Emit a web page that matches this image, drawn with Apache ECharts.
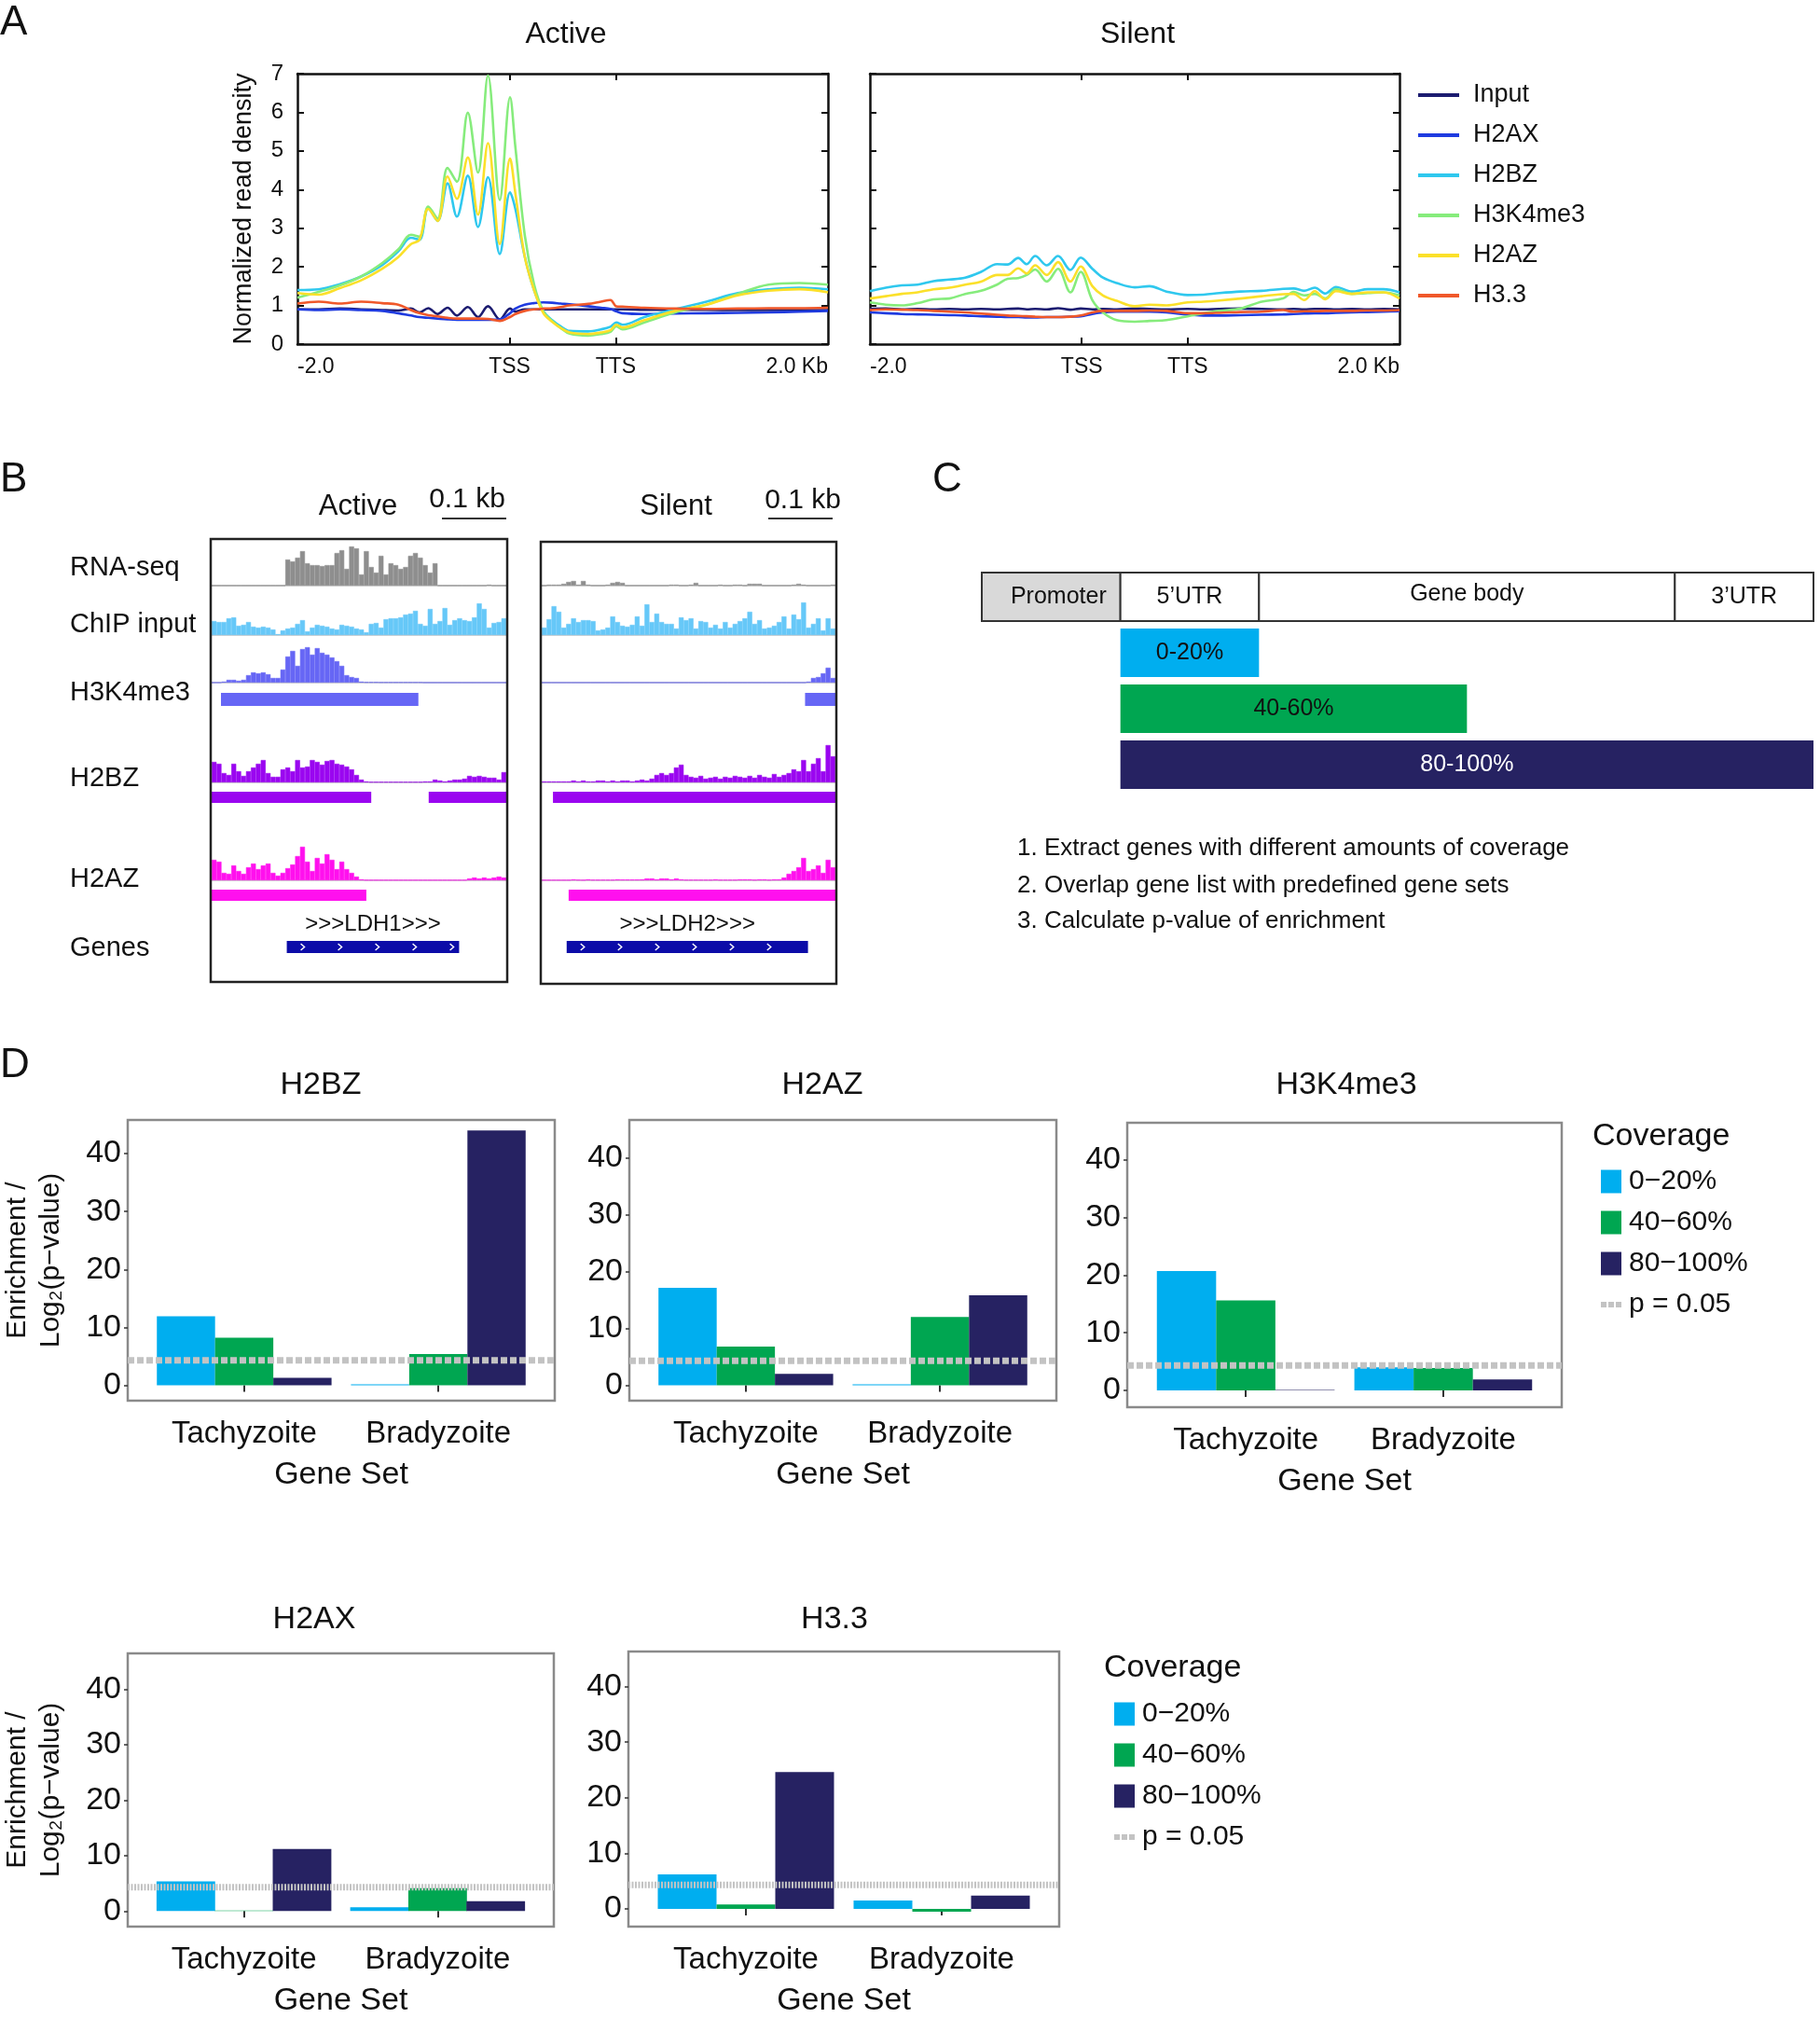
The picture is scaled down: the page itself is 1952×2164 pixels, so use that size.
<!DOCTYPE html>
<html><head><meta charset="utf-8">
<script src="https://cdn.jsdelivr.net/npm/echarts@6/dist/echarts.min.js"></script>
<style>html,body{margin:0;padding:0;background:#fff}#c{width:1952px;height:2164px}</style>
</head><body><div id="c"></div>
<script>
// ================= DATA =================
// Panel A: metagene profiles (x in bp-scaled units: -2kb..TSS..TTS..+2kb => 0..2000..3000..5000)
const profileNames = ['Input','H2AX','H2BZ','H3K4me3','H2AZ','H3.3'];
const profileTickPos = [0, 2000, 3000, 5000];
const profileTickLabels = ['-2.0','TSS','TTS','2.0 Kb'];
const xActive = [0,200,400,600,800,950,1070,1150,1233,1321,1415,1503,1606,1702,1796,1907,2004,2054,2142,2230,2318,2400,2480,2566,2740,2860,2950,3005,3064,3270,3560,3855,4150,4440,4730,5000];
const activeInput = [0.90,0.90,0.92,0.90,0.88,0.87,0.92,0.82,0.93,0.78,0.94,0.74,0.96,0.70,0.98,0.64,0.92,0.84,0.90,0.90,0.90,0.90,0.90,0.90,0.90,0.90,0.90,0.90,0.90,0.89,0.89,0.89,0.88,0.88,0.88,0.88];
const activeH2AX = [0.90,0.88,0.90,0.88,0.86,0.80,0.74,0.70,0.68,0.66,0.64,0.63,0.63,0.63,0.63,0.64,0.80,0.92,1.02,1.06,1.08,1.07,1.05,1.03,0.98,0.94,0.91,0.85,0.80,0.78,0.79,0.80,0.81,0.82,0.84,0.86];
const activeH2BZ = [1.40,1.42,1.55,1.75,2.05,2.40,2.75,2.70,3.52,3.19,4.16,3.30,4.36,3.03,4.32,2.33,3.93,3.50,2.27,1.40,0.85,0.62,0.46,0.34,0.33,0.38,0.45,0.56,0.50,0.70,0.90,1.10,1.32,1.42,1.46,1.42];
const activeH3K4me3 = [1.20,1.35,1.52,1.75,2.10,2.45,2.83,2.78,3.56,3.25,4.56,4.20,5.99,4.44,6.95,3.73,6.39,5.10,2.83,1.55,0.85,0.60,0.42,0.27,0.22,0.26,0.32,0.46,0.38,0.56,0.82,1.02,1.30,1.54,1.58,1.54];
const activeH2AZ = [1.32,1.28,1.45,1.65,1.95,2.25,2.59,2.70,3.50,3.19,4.34,3.76,4.83,3.35,5.20,2.59,4.80,3.90,2.27,1.40,0.80,0.58,0.42,0.30,0.26,0.30,0.36,0.50,0.43,0.62,0.86,1.02,1.26,1.38,1.42,1.34];
const activeH33 = [1.05,1.10,1.05,1.10,1.06,1.02,0.88,0.80,0.75,0.72,0.68,0.66,0.66,0.66,0.65,0.60,0.70,0.78,0.86,0.90,0.92,0.93,0.96,1.00,1.04,1.10,1.14,0.98,0.97,0.94,0.92,0.91,0.92,0.93,0.93,0.94];
const xSilent = [0,150,300,450,600,750,900,1050,1200,1300,1400,1480,1560,1670,1776,1893,1990,2100,2200,2330,2500,2640,2800,3000,3150,3300,3500,3700,3900,4000,4100,4200,4300,4400,4550,4700,4850,5000];
const silentInput = [0.91,0.92,0.90,0.91,0.90,0.91,0.90,0.91,0.90,0.91,0.92,0.90,0.91,0.90,0.93,0.89,0.92,0.90,0.91,0.90,0.92,0.91,0.90,0.91,0.90,0.91,0.92,0.91,0.90,0.91,0.90,0.91,0.91,0.90,0.91,0.90,0.91,0.90];
const silentH2AX = [0.82,0.80,0.78,0.77,0.76,0.75,0.74,0.72,0.71,0.70,0.70,0.69,0.69,0.70,0.70,0.71,0.72,0.78,0.82,0.84,0.84,0.84,0.82,0.76,0.74,0.74,0.75,0.76,0.77,0.78,0.79,0.80,0.80,0.81,0.82,0.83,0.84,0.85];
const silentH2BZ = [1.37,1.46,1.52,1.54,1.63,1.67,1.72,1.87,2.07,2.06,2.23,2.07,2.28,2.04,2.28,1.92,2.24,1.95,1.72,1.58,1.47,1.50,1.36,1.27,1.28,1.32,1.36,1.38,1.43,1.44,1.38,1.46,1.31,1.48,1.36,1.42,1.42,1.34];
const silentH3K4me3 = [1.08,1.02,1.00,1.06,1.16,1.18,1.30,1.38,1.54,1.69,1.71,1.79,1.93,1.62,1.95,1.34,1.87,1.14,0.82,0.62,0.58,0.60,0.62,0.72,0.80,0.86,0.92,1.10,1.18,1.35,1.26,1.30,1.18,1.42,1.30,1.32,1.34,1.26];
const silentH2AZ = [1.18,1.24,1.30,1.34,1.42,1.46,1.54,1.62,1.79,1.79,1.96,1.83,2.04,1.79,2.12,1.62,2.01,1.50,1.26,1.12,0.98,1.02,1.00,1.08,1.10,1.13,1.18,1.24,1.29,1.30,1.14,1.37,1.16,1.37,1.30,1.34,1.34,1.18];
const silentH33 = [0.88,0.90,0.89,0.88,0.86,0.84,0.82,0.79,0.76,0.74,0.73,0.72,0.71,0.70,0.70,0.71,0.74,0.82,0.86,0.86,0.86,0.87,0.86,0.80,0.80,0.81,0.83,0.84,0.88,0.84,0.85,0.85,0.86,0.86,0.86,0.87,0.87,0.88];

// Panel B: genome browser coverage tracks (60 bins per locus)
const trackNames = ['RNA-seq','ChIP input','H3K4me3','H2BZ','H2AZ','Genes'];
const rnaActive = [0,0,0,0,0,0,0,0,0,0,0,0,0,0,0,28,26,30,37,24,22,22,21,22,22,35,38,18,42,40,12,37,20,14,32,12,24,22,18,20,32,35,30,22,14,24,0,0,0,0,0,0,0,0,0,0,1,0,0,0];
const chipActive = [15,14,14,18,19,10,11,14,9,8,9,8,6,1,5,7,8,12,16,4,8,11,10,9,7,6,11,10,9,7,6,3,12,13,8,17,18,18,19,22,23,26,12,10,28,12,15,29,11,16,18,16,15,19,34,28,8,13,14,18];
const k4Active = [0,0,1,3,3,2,3,8,11,10,11,9,5,5,14,28,34,18,36,38,30,37,32,30,27,23,18,8,6,5,1,0.5,0.5,0.5,0.3,0.3,0.3,0.3,0.3,0.3,0.3,0.3,0.3,0,0,0,0,0,0,0,0,0,0,0,0,0,0,0,0,0];
const h2bzActive = [22,20,10,8,20,12,7,12,16,20,24,10,6,6,14,16,12,24,16,17,24,22,19,23,24,20,19,17,14,8,3,1,0.5,0.5,0.5,0.5,0.5,0.5,0.5,0.5,0.5,0.5,0.5,1,1,3,2,1,2,3,3,4,7,6,7,6,5,5,3,11];
const h2azActive = [22,20,8,7,16,10,7,14,18,12,16,18,8,5,8,13,17,26,36,20,10,24,18,28,22,12,20,12,8,4,1,0.3,0.3,0.3,0.3,0.3,0.3,0.3,0.3,0.3,0.3,0.3,0.3,0.3,0.3,0.3,0.3,0.3,0.3,0.3,0.3,0.3,2,3,2,3,2,3,4,3];
const rnaSilent = [0,1,1,1,2,4,5,1,5,1,0,0,0,1,3,4,3,0,0,0,0,0,0,0,0,0,1,1,0,0,1,3,0,0,0,0,1,0,0,1,1,0,2,2,2,0,0,0,0,0,0,1,2,1,0,0,0,0,0,1];
const chipSilent = [8,17,31,25,8,12,18,14,16,16,15,5,6,8,20,14,10,9,11,20,10,33,14,23,14,12,12,7,19,16,18,7,15,14,8,11,7,14,8,12,15,18,25,12,16,7,8,10,14,20,7,22,17,35,8,12,18,5,18,7];
const k4Silent = [0,0,0,0,0,0,0,0,0,0,0,0,0,0,0,0,0,0,0,0,0,0,0,0,0,0,0,0,0,0,0,0,0,0,0,0,0,0,0,0,0,0,0,0,0,0,0,0,0,0,0,0,0,0,1,5,6,10,16,5];
const h2bzSilent = [1,1,1,1,1,1,2,1,2,1,1,2,2,1,2,1,2,2,1,2,3,2,4,8,10,8,10,16,19,8,6,5,7,4,5,6,4,6,5,7,6,5,7,5,8,6,5,9,6,8,10,14,12,24,12,20,26,12,40,28];
const h2azSilent = [0.3,0.3,0.3,0.3,0.3,0.3,1,0.5,0.3,1,0.5,0.5,0.5,0.5,0.5,1,0.8,0.8,0.8,0.8,1,2,2,1,2,2,1,2,1,0.5,0.5,0.5,0.5,0.5,0.5,1,0.5,0.5,0.5,0.5,1,1,1,0.5,1,1,0.5,1,1,3,7,10,14,24,10,12,16,8,22,14];
// called peaks / gene models, in bins [start, end]
const k4PeaksActive = [[1.9, 42.1]];
const k4PeaksSilent = [[53.8, 60]];
const h2bzPeaksActive = [[0, 32.5], [44.2, 60]];
const h2bzPeaksSilent = [[2.3, 60]];
const h2azPeaksActive = [[0, 31.5]];
const h2azPeaksSilent = [[5.5, 60]];
const geneNames = ['LDH1', 'LDH2'];
const geneActive = [[15.3, 50.4, 0]];
const geneSilent = [[5.1, 54.4, 1]];

// Panel C: schematic
const structureLabels = ['Promoter', '5\u2019UTR', 'Gene body', '3\u2019UTR'];
const structureBounds = [0, 1, 2, 5, 6];
const coverageBarLabels = ['0-20%', '40-60%', '80-100%'];
const coverageBarEnds = [2, 3.5, 6];
const steps = ['1. Extract genes with different amounts of coverage', '2. Overlap gene list with predefined gene sets', '3. Calculate p-value of enrichment'];

// Panel D: enrichment, per coverage class: [Tachyzoite, Bradyzoite]
const geneSets = ['Tachyzoite', 'Bradyzoite'];
const coverageNames = ['0\u221220%', '40\u221260%', '80\u2212100%'];
const enrichH2BZ = [[11.9, 0.15], [8.2, 5.4], [1.3, 44.0]];
const enrichH2AZ = [[17.1, 0.15], [6.8, 12.0], [2.0, 15.8]];
const enrichH3K4me3 = [[20.7, 4.0], [15.6, 3.9], [0.1, 1.9]];
const enrichH2AX = [[5.35, 0.7], [0.1, 4.15], [11.2, 1.8]];
const enrichH33 = [[6.2, 1.5], [0.8, -0.5], [24.6, 2.4]];
const pThreshold = [4.32];
const yTicksD = [0, 10, 20, 30, 40];

// ================= STYLE / LAYOUT =================
const FONT = "'Liberation Sans', Arial, Helvetica, sans-serif";
const INK = '#111';
const profileColors = ['#1c1c70', '#1f3be0', '#2fc8ee', '#86ec7c', '#fbe02a', '#f0582a'];
const coverageColors = ['#00aeef', '#00a651', '#262262'];

const grids = [], xAxes = [], yAxes = [], series = [], graphics = [];
const addGrid = g => (grids.push(g), grids.length - 1);
const addX = a => (xAxes.push(a), xAxes.length - 1);
const addY = a => (yAxes.push(a), yAxes.length - 1);
const txt = (text, x, y, size, opts = {}) => graphics.push(Object.assign({
  type: 'text', x, y, z: 10,
  style: Object.assign({ text, font: size + 'px ' + FONT, fill: INK,
    textAlign: 'center', textVerticalAlign: 'middle', align: 'center', verticalAlign: 'middle' }, opts.style || {})
}, opts.el || {}));

// ---------- Panel A ----------
function buildProfile(left, width, xs, profiles, showLabels) {
  const gi = addGrid({ left, top: 79, width, height: 290 });
  const line = { color: INK, width: 2.5 };
  const tick = { color: INK, width: 2 };
  const xb = addX({ gridIndex: gi, type: 'value', min: 0, max: 5000, position: 'bottom',
    axisLine: { show: true, onZero: false, lineStyle: line },
    axisTick: { show: true, inside: true, length: 7, customValues: profileTickPos.slice(1, 3), lineStyle: tick },
    axisLabel: { show: true, customValues: profileTickPos, formatter: v => profileTickLabels[profileTickPos.indexOf(v)],
      fontSize: 23, color: INK, fontFamily: FONT, margin: 13, alignMinLabel: 'left', alignMaxLabel: 'right' },
    splitLine: { show: false } });
  addX({ gridIndex: gi, type: 'value', min: 0, max: 5000, position: 'top',
    axisLine: { show: true, onZero: false, lineStyle: line },
    axisTick: { show: true, inside: true, length: 7, customValues: profileTickPos.slice(1, 3), lineStyle: tick },
    axisLabel: { show: false }, splitLine: { show: false } });
  const yl = addY({ gridIndex: gi, type: 'value', min: 0, max: 7, interval: 1, position: 'left',
    axisLine: { show: true, onZero: false, lineStyle: line },
    axisTick: { show: true, inside: true, length: 7, lineStyle: tick },
    axisLabel: { show: showLabels, fontSize: 24, color: INK, fontFamily: FONT, margin: 15 },
    splitLine: { show: false },
    name: showLabels ? 'Normalized read density' : '', nameLocation: 'middle', nameRotate: 90, nameGap: 44,
    nameTextStyle: { fontSize: 27, color: INK, fontFamily: FONT } });
  addY({ gridIndex: gi, type: 'value', min: 0, max: 7, interval: 1, position: 'right',
    axisLine: { show: true, onZero: false, lineStyle: line },
    axisTick: { show: true, inside: true, length: 7, lineStyle: tick },
    axisLabel: { show: false }, splitLine: { show: false } });
  profiles.forEach((ys, k) => series.push({
    type: 'line', name: profileNames[k], xAxisIndex: xb, yAxisIndex: yl,
    data: xs.map((x, i) => [x, ys[i]]), smooth: 0.35, symbol: 'none', showSymbol: false,
    lineStyle: { color: profileColors[k], width: 2.6 }, itemStyle: { color: profileColors[k] }, silent: true
  }));
}
buildProfile(319, 569, xActive, [activeInput, activeH2AX, activeH2BZ, activeH3K4me3, activeH2AZ, activeH33], true);
buildProfile(933, 568, xSilent, [silentInput, silentH2AX, silentH2BZ, silentH3K4me3, silentH2AZ, silentH33], false);
txt('A', 0, 25, 44, { style: { textAlign: 'left', align: 'left' } });
txt('Active', 607, 37, 32);
txt('Silent', 1220, 37, 32);

// ---------- Panel B ----------
const bPanels = [{ left: 227, width: 316 }, { left: 581, width: 315 }];
const bTracks = [
  { data: [rnaActive, rnaSilent], color: '#8e8e8e', top: 584, height: 44 },
  { data: [chipActive, chipSilent], color: '#66c8f8', top: 642, height: 39 },
  { data: [k4Active, k4Silent], color: '#6666f5', top: 690, height: 42 },
  { data: [h2bzActive, h2bzSilent], color: '#9a06f0', top: 795, height: 44 },
  { data: [h2azActive, h2azSilent], color: '#ff10ee', top: 900, height: 44 }
];
const bAnnot = [
  { segs: [k4PeaksActive, k4PeaksSilent], color: '#6666f5', top: 743, height: 14 },
  { segs: [h2bzPeaksActive, h2bzPeaksSilent], color: '#9a06f0', top: 849, height: 12 },
  { segs: [h2azPeaksActive, h2azPeaksSilent], color: '#ff10ee', top: 954, height: 12 }
];
const bGenes = [geneActive, geneSilent];
const binCats = rnaActive.map((_, i) => i);
bPanels.forEach((pan, p) => {
  bTracks.forEach(tr => {
    const gi = addGrid({ left: pan.left, width: pan.width, top: tr.top, height: tr.height });
    const xi = addX({ gridIndex: gi, type: 'category', data: binCats, boundaryGap: true,
      axisLine: { show: true, lineStyle: { color: '#c4c4c4', width: 1.5 } }, axisTick: { show: false }, axisLabel: { show: false } });
    const yi = addY({ gridIndex: gi, type: 'value', min: 0, max: tr.height, show: false });
    series.push({ type: 'bar', xAxisIndex: xi, yAxisIndex: yi, data: tr.data[p], barCategoryGap: '0%', barGap: '0%',
      itemStyle: { color: tr.color, borderColor: tr.color, borderWidth: 0.6 }, silent: true, animation: false });
  });
  bAnnot.forEach(an => {
    const gi = addGrid({ left: pan.left, width: pan.width, top: an.top, height: an.height });
    const xi = addX({ gridIndex: gi, type: 'value', min: 0, max: 60, show: false });
    const yi = addY({ gridIndex: gi, type: 'value', min: 0, max: 1, show: false });
    series.push({ type: 'custom', xAxisIndex: xi, yAxisIndex: yi, data: an.segs[p], encode: { x: [0, 1] }, silent: true,
      renderItem: (params, api) => {
        const a = api.coord([api.value(0), 1]), b = api.coord([api.value(1), 0]);
        return { type: 'rect', shape: { x: a[0], y: a[1], width: b[0] - a[0], height: b[1] - a[1] }, style: { fill: an.color } };
      } });
  });
  const gi = addGrid({ left: pan.left, width: pan.width, top: 1009, height: 13 });
  const xi = addX({ gridIndex: gi, type: 'value', min: 0, max: 60, show: false });
  const yi = addY({ gridIndex: gi, type: 'value', min: 0, max: 1, show: false });
  series.push({ type: 'custom', xAxisIndex: xi, yAxisIndex: yi, data: bGenes[p], encode: { x: [0, 1] }, silent: true,
    renderItem: (params, api) => {
      const a = api.coord([api.value(0), 1]), b = api.coord([api.value(1), 0]);
      const x0 = a[0], y0 = a[1], w = b[0] - a[0], h = b[1] - a[1];
      const ch = [{ type: 'rect', shape: { x: x0, y: y0, width: w, height: h }, style: { fill: '#0c0ca8' } }];
      for (let cx = x0 + 17; cx < x0 + w - 3; cx += 40) {
        ch.push({ type: 'polyline', shape: { points: [[cx - 2, y0 + 3], [cx + 2, y0 + h / 2], [cx - 2, y0 + h - 3]] },
          style: { stroke: '#fff', lineWidth: 1.4, fill: null } });
      }
      ch.push({ type: 'text', style: { text: '>>>' + geneNames[api.value(2)] + '>>>', x: x0 + w / 2, y: y0 - 18,
        align: 'center', verticalAlign: 'middle', font: '24px ' + FONT, fill: INK } });
      return { type: 'group', children: ch };
    } });
});
graphics.push({ type: 'rect', shape: { x: 226, y: 578, width: 318, height: 475 }, style: { fill: null, stroke: '#222', lineWidth: 2.5 }, z: 10 });
graphics.push({ type: 'rect', shape: { x: 580, y: 581, width: 317, height: 474 }, style: { fill: null, stroke: '#222', lineWidth: 2.5 }, z: 10 });
txt('B', 0, 515, 44, { style: { textAlign: 'left', align: 'left' } });
txt('Active', 384, 543, 31);
txt('0.1 kb', 501, 536, 30);
txt('Silent', 725, 543, 31);
txt('0.1 kb', 861, 537, 30);
graphics.push({ type: 'line', shape: { x1: 474, y1: 556, x2: 543, y2: 556 }, style: { stroke: '#333', lineWidth: 2 } });
graphics.push({ type: 'line', shape: { x1: 824, y1: 556, x2: 893, y2: 556 }, style: { stroke: '#333', lineWidth: 2 } });
const bLabelY = [609, 670, 743, 835, 943, 1017];
trackNames.forEach((n, i) => txt(n, 75, bLabelY[i], 29, { style: { textAlign: 'left', align: 'left' } }));

// ---------- Panel C ----------
{
  const gi = addGrid({ left: 1053, top: 610, width: 892, height: 240 });
  const xi = addX({ gridIndex: gi, type: 'value', min: 0, max: 6, show: false });
  const yi = addY({ gridIndex: gi, type: 'category', data: ['structure'].concat(coverageBarLabels), inverse: true, show: false });
  const structFill = ['#d9d9d9', '#fff', '#fff', '#fff'];
  series.push({ type: 'custom', xAxisIndex: xi, yAxisIndex: yi, silent: true, encode: { x: [0, 1], y: 2 },
    data: structureLabels.map((l, i) => [structureBounds[i], structureBounds[i + 1], 0, i]),
    renderItem: (params, api) => {
      const a = api.coord([api.value(0), api.value(2)]), b = api.coord([api.value(1), api.value(2)]);
      const h = api.size([0, 1])[1] * 0.87, i = api.value(3);
      return { type: 'group', children: [
        { type: 'rect', shape: { x: a[0], y: a[1] - h / 2, width: b[0] - a[0], height: h }, style: { fill: structFill[i], stroke: '#333', lineWidth: 2 } },
        { type: 'text', style: { text: structureLabels[i], x: (a[0] + b[0]) / 2 + (i === 0 ? 8 : 0), y: a[1] - (i === 2 ? 3 : 0), align: 'center', verticalAlign: 'middle', font: '25px ' + FONT, fill: INK } }
      ] };
    } });
  const barText = [INK, INK, '#fff'];
  series.push({ type: 'custom', xAxisIndex: xi, yAxisIndex: yi, silent: true, encode: { x: [0, 1], y: 2 },
    data: coverageBarEnds.map((e, i) => [structureBounds[1], e, i + 1, i]),
    renderItem: (params, api) => {
      const a = api.coord([api.value(0), api.value(2)]), b = api.coord([api.value(1), api.value(2)]);
      const h = api.size([0, 1])[1] * 0.87, i = api.value(3);
      return { type: 'group', children: [
        { type: 'rect', shape: { x: a[0], y: a[1] - h / 2, width: b[0] - a[0], height: h }, style: { fill: coverageColors[i] } },
        { type: 'text', style: { text: coverageBarLabels[i], x: (a[0] + b[0]) / 2, y: a[1], align: 'center', verticalAlign: 'middle', font: '25px ' + FONT, fill: barText[i] } }
      ] };
    } });
}
txt('C', 1000, 515, 44, { style: { textAlign: 'left', align: 'left' } });
[910, 950, 988].forEach((y, i) => txt(steps[i], 1091, y, 26, { style: { textAlign: 'left', align: 'left' } }));

// ---------- Panel D ----------
const dCharts = [
  { title: 'H2BZ', data: enrichH2BZ, grid: { left: 137, top: 1201, width: 458, height: 301 }, yMin: -2.66, yMax: 45.8, tx: 344, ty: 1164, dash: [7, 3], yName: true },
  { title: 'H2AZ', data: enrichH2AZ, grid: { left: 675, top: 1201, width: 458, height: 301 }, yMin: -2.7, yMax: 46.6, tx: 882, ty: 1164, dash: [7, 3] },
  { title: 'H3K4me3', data: enrichH3K4me3, grid: { left: 1209, top: 1204, width: 466, height: 305 }, yMin: -2.9, yMax: 46.4, tx: 1444, ty: 1164, dash: [7, 3] },
  { title: 'H2AX', data: enrichH2AX, grid: { left: 133, top: 1773, width: 461, height: 301 }, yMin: -2.8, yMax: 46.5, tx: 337, ty: 1737, dash: [2, 1.5], yName: true },
  { title: 'H3.3', data: enrichH33, grid: { left: 674, top: 1771, width: 462, height: 304 }, yMin: -3.2, yMax: 46.3, tx: 895, ty: 1737, dash: [2, 1.5] }
];
const dodge = [-0.3, 0, 0.3];
dCharts.forEach(c => {
  const gi = addGrid(Object.assign({ show: true, borderColor: '#8a8a8a', borderWidth: 2.5 }, c.grid));
  const xi = addX({ gridIndex: gi, type: 'value', min: 0.4, max: 2.6,
    axisLine: { show: false },
    axisTick: { show: true, customValues: [1, 2], length: 7, lineStyle: { color: '#333', width: 2 } },
    axisLabel: { show: true, customValues: [1, 2], formatter: v => geneSets[Math.round(v) - 1], fontSize: 33, color: INK, fontFamily: FONT, margin: 19 },
    splitLine: { show: false },
    name: 'Gene Set', nameLocation: 'middle', nameGap: 63, nameTextStyle: { fontSize: 34, color: INK, fontFamily: FONT } });
  const yi = addY({ gridIndex: gi, type: 'value', min: c.yMin, max: c.yMax,
    axisLine: { show: false },
    axisTick: { show: true, customValues: yTicksD, length: 4, lineStyle: { color: '#333', width: 1.5 } },
    axisLabel: { show: true, customValues: yTicksD, fontSize: 34, color: INK, fontFamily: FONT, margin: 7 },
    splitLine: { show: false },
    name: c.yName ? 'Enrichment /\nLog\u2082(p\u2212value)' : '', nameLocation: 'middle', nameRotate: 90, nameGap: 64,
    nameTextStyle: { fontSize: 30, lineHeight: 36, color: INK, fontFamily: FONT } });
  const bw = c.grid.width * 0.3 / 2.2;
  coverageNames.forEach((n, k) => series.push({
    type: 'bar', name: n, xAxisIndex: xi, yAxisIndex: yi, barWidth: bw, barGap: '-100%',
    data: geneSets.map((g, j) => [j + 1 + dodge[k], c.data[k][j]]),
    itemStyle: { color: coverageColors[k] }, silent: true
  }));
  series.push({ type: 'line', name: 'p = 0.05', xAxisIndex: xi, yAxisIndex: yi, z: 5, silent: true,
    data: [[0.4, pThreshold[0]], [2.6, pThreshold[0]]], symbol: 'none',
    lineStyle: { color: '#c3c3c3', width: 7, type: c.dash }, itemStyle: { color: '#c3c3c3' } });
  txt(c.title, c.tx, c.ty, 34);
});
txt('D', 0, 1143, 44, { style: { textAlign: 'left', align: 'left' } });
txt('Coverage', 1708, 1219, 34, { style: { textAlign: 'left', align: 'left' } });
txt('Coverage', 1184, 1789, 34, { style: { textAlign: 'left', align: 'left' } });

const dashIcon = 'path://M0,0h6v6h-6z M8,0h6v6h-6z M16,0h6v6h-6z';
const dLegend = (left, top) => ({
  orient: 'vertical', left, top, itemWidth: 22, itemHeight: 25, itemGap: 12, selectedMode: false,
  data: coverageNames.map(n => ({ name: n, icon: 'rect' })).concat([{ name: 'p = 0.05', icon: dashIcon, itemStyle: { color: '#c3c3c3' } }]),
  textStyle: { fontSize: 30, color: INK, fontFamily: FONT, lineHeight: 32, padding: [0, 0, 0, 3] }
});

const option = {
  animation: false,
  backgroundColor: '#fff',
  textStyle: { fontFamily: FONT },
  grid: grids, xAxis: xAxes, yAxis: yAxes, series,
  legend: [
    { orient: 'vertical', left: 1516, top: 83, icon: 'rect', itemWidth: 44, itemHeight: 4, itemGap: 15, selectedMode: false,
      data: profileNames, textStyle: { fontSize: 27, color: INK, fontFamily: FONT, lineHeight: 28, padding: [0, 0, 0, 10] } },
    dLegend(1712, 1246),
    dLegend(1190, 1817)
  ],
  graphic: graphics
};
const chart = echarts.init(document.getElementById('c'), null, { renderer: 'canvas', width: 1952, height: 2164 });
chart.setOption(option);
</script></body></html>
